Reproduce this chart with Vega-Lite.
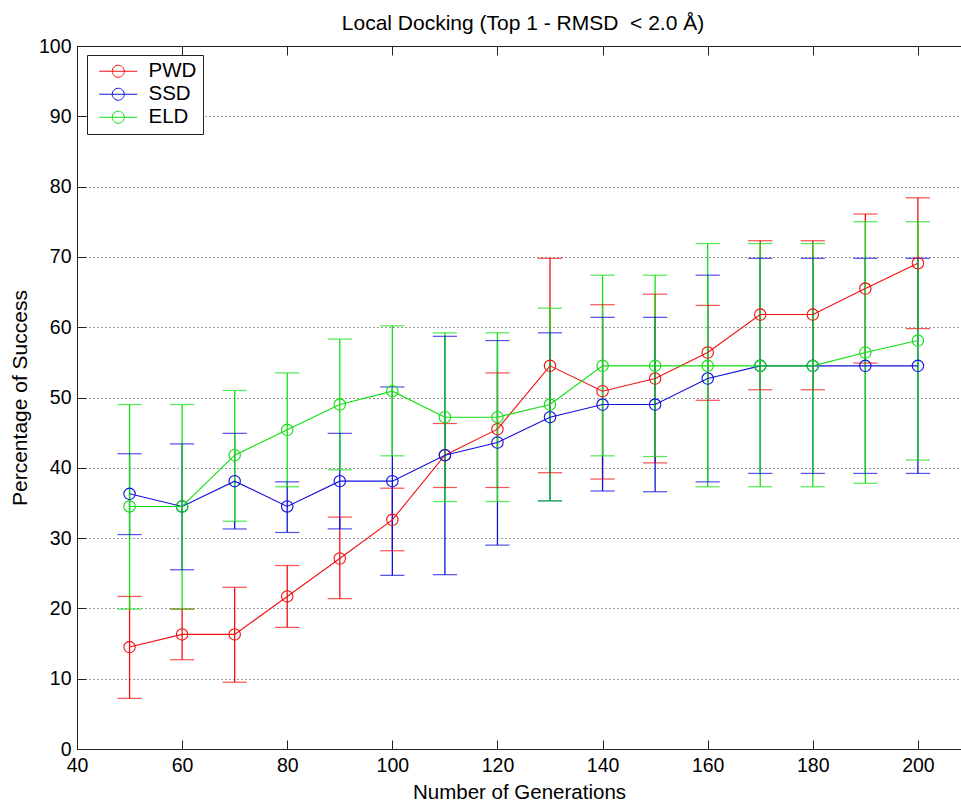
{
  "$schema": "https://vega.github.io/schema/vega-lite/v6.json",
  "width": 884,
  "height": 703,
  "autosize": {"type": "none"},
  "padding": {"left": 77, "top": 46, "right": 0, "bottom": 54},
  "background": "#ffffff",
  "config": {
    "font": "Liberation Sans",
    "view": {"stroke": null},
    "axis": {"domainColor": "#222222", "tickColor": "#222222", "labelColor": "#000000", "titleColor": "#000000", "labelFont": "Liberation Sans", "titleFont": "Liberation Sans", "titleFontWeight": "normal"}
  },
  "title": {
    "text": "Local Docking (Top 1 - RMSD\u00a0 < 2.0 Å)",
    "fontSize": 21,
    "fontWeight": "normal",
    "font": "Liberation Sans",
    "color": "#000000",
    "frame": "group",
    "anchor": "middle",
    "offset": 2,
    "dx": 4
  },
  "data": {
    "values": [
      {"gen": 50, "method": "PWD", "val": 14.5, "lo": 7.2, "hi": 21.7},
      {"gen": 60, "method": "PWD", "val": 16.3, "lo": 12.7, "hi": 19.9},
      {"gen": 70, "method": "PWD", "val": 16.3, "lo": 9.5, "hi": 23.0},
      {"gen": 80, "method": "PWD", "val": 21.7, "lo": 17.3, "hi": 26.1},
      {"gen": 90, "method": "PWD", "val": 27.1, "lo": 21.4, "hi": 33.0},
      {"gen": 100, "method": "PWD", "val": 32.6, "lo": 28.2, "hi": 37.1},
      {"gen": 110, "method": "PWD", "val": 41.8, "lo": 37.2, "hi": 46.3},
      {"gen": 120, "method": "PWD", "val": 45.5, "lo": 37.2, "hi": 53.5},
      {"gen": 130, "method": "PWD", "val": 54.5, "lo": 39.3, "hi": 69.8},
      {"gen": 140, "method": "PWD", "val": 50.9, "lo": 38.4, "hi": 63.2},
      {"gen": 150, "method": "PWD", "val": 52.7, "lo": 40.7, "hi": 64.7},
      {"gen": 160, "method": "PWD", "val": 56.4, "lo": 49.6, "hi": 63.1},
      {"gen": 170, "method": "PWD", "val": 61.8, "lo": 51.1, "hi": 72.3},
      {"gen": 180, "method": "PWD", "val": 61.8, "lo": 51.1, "hi": 72.3},
      {"gen": 190, "method": "PWD", "val": 65.5, "lo": 54.9, "hi": 76.1},
      {"gen": 200, "method": "PWD", "val": 69.1, "lo": 59.8, "hi": 78.4},
      {"gen": 50, "method": "SSD", "val": 36.3, "lo": 30.5, "hi": 42.0},
      {"gen": 60, "method": "SSD", "val": 34.5, "lo": 25.5, "hi": 43.4},
      {"gen": 70, "method": "SSD", "val": 38.1, "lo": 31.3, "hi": 44.9},
      {"gen": 80, "method": "SSD", "val": 34.5, "lo": 30.8, "hi": 38.0},
      {"gen": 90, "method": "SSD", "val": 38.1, "lo": 31.3, "hi": 44.9},
      {"gen": 100, "method": "SSD", "val": 38.1, "lo": 24.7, "hi": 51.5},
      {"gen": 110, "method": "SSD", "val": 41.8, "lo": 24.8, "hi": 58.7},
      {"gen": 120, "method": "SSD", "val": 43.6, "lo": 29.0, "hi": 58.1},
      {"gen": 130, "method": "SSD", "val": 47.2, "lo": 35.3, "hi": 59.2},
      {"gen": 140, "method": "SSD", "val": 49.0, "lo": 36.7, "hi": 61.4},
      {"gen": 150, "method": "SSD", "val": 49.0, "lo": 36.6, "hi": 61.4},
      {"gen": 160, "method": "SSD", "val": 52.7, "lo": 38.0, "hi": 67.4},
      {"gen": 170, "method": "SSD", "val": 54.5, "lo": 39.2, "hi": 69.8},
      {"gen": 180, "method": "SSD", "val": 54.5, "lo": 39.2, "hi": 69.8},
      {"gen": 190, "method": "SSD", "val": 54.5, "lo": 39.2, "hi": 69.8},
      {"gen": 200, "method": "SSD", "val": 54.5, "lo": 39.2, "hi": 69.8},
      {"gen": 50, "method": "ELD", "val": 34.5, "lo": 19.9, "hi": 49.0},
      {"gen": 60, "method": "ELD", "val": 34.5, "lo": 19.9, "hi": 49.0},
      {"gen": 70, "method": "ELD", "val": 41.8, "lo": 32.4, "hi": 51.0},
      {"gen": 80, "method": "ELD", "val": 45.4, "lo": 37.3, "hi": 53.5},
      {"gen": 90, "method": "ELD", "val": 49.0, "lo": 39.7, "hi": 58.3},
      {"gen": 100, "method": "ELD", "val": 50.9, "lo": 41.7, "hi": 60.2},
      {"gen": 110, "method": "ELD", "val": 47.2, "lo": 35.2, "hi": 59.2},
      {"gen": 120, "method": "ELD", "val": 47.2, "lo": 35.2, "hi": 59.2},
      {"gen": 130, "method": "ELD", "val": 49.0, "lo": 35.3, "hi": 62.7},
      {"gen": 140, "method": "ELD", "val": 54.5, "lo": 41.7, "hi": 67.4},
      {"gen": 150, "method": "ELD", "val": 54.5, "lo": 41.6, "hi": 67.4},
      {"gen": 160, "method": "ELD", "val": 54.5, "lo": 37.3, "hi": 71.9},
      {"gen": 170, "method": "ELD", "val": 54.5, "lo": 37.3, "hi": 71.9},
      {"gen": 180, "method": "ELD", "val": 54.5, "lo": 37.3, "hi": 71.9},
      {"gen": 190, "method": "ELD", "val": 56.4, "lo": 37.8, "hi": 75.0},
      {"gen": 200, "method": "ELD", "val": 58.1, "lo": 41.1, "hi": 75.0}
    ]
  },
  "encoding": {
    "color": {
      "field": "method", "type": "nominal",
      "scale": {"domain": ["PWD", "SSD", "ELD"], "range": ["#f01010", "#1010e0", "#10e010"]},
      "legend": {
        "title": null,
        "orient": "none",
        "legendX": 10,
        "legendY": 9,
        "direction": "vertical",
        "fillColor": "#ffffff",
        "strokeColor": "#222222",
        "padding": 6,
        "labelFontSize": 20.5,
        "labelFont": "Liberation Sans",
        "labelColor": "#000000",
        "labelOffset": 35,
        "labelExpr": "datum.label + '\u00a0'",
        "rowPadding": 2,
        "symbolType": "M-0.6667,0H5.6667M3.5,0A1,1 0 1 1 1.5,0A1,1 0 1 1 3.5,0",
        "symbolSize": 144,
        "symbolStrokeWidth": 1,
        "symbolFillColor": "transparent",
        "encode": {"symbols": {"enter": {"fill": {"value": "transparent"}}, "update": {"fill": {"value": "transparent"}}}}
      }
    }
  },
  "layer": [
    {
      "mark": {"type": "rule", "strokeWidth": 1.3},
      "encoding": {
        "x": {
          "field": "gen", "type": "quantitative",
          "scale": {"domain": [40, 208.2], "nice": false, "zero": false},
          "axis": {
            "orient": "bottom",
            "values": [40, 60, 80, 100, 120, 140, 160, 180, 200],
            "title": "Number of Generations",
            "titleFontSize": 20.5,
            "titlePadding": 8,
            "labelFontSize": 19.5,
            "labelPadding": 16,
            "tickSize": -9,
            "grid": false,
            "labelFlush": false
          }
        },
        "y": {
          "field": "lo", "type": "quantitative",
          "scale": {"domain": [0, 100], "nice": false},
          "axis": {
            "orient": "left",
            "values": [0, 10, 20, 30, 40, 50, 60, 70, 80, 90, 100],
            "title": "Percentage of Success",
            "titleFontSize": 21,
            "titlePadding": 8,
            "labelFontSize": 19.5,
            "labelPadding": 15,
            "tickSize": -9,
            "grid": true,
            "gridColor": "#000000",
            "gridDash": [1, 3],
            "gridOpacity": 0.8,
            "labelFlush": false
          }
        },
        "y2": {"field": "hi"}
      }
    },
    {
      "mark": {"type": "tick", "orient": "horizontal", "size": 23, "thickness": 0.05, "filled": false, "strokeWidth": 1.2},
      "encoding": {
        "x": {"field": "gen", "type": "quantitative", "axis": null},
        "y": {"field": "hi", "type": "quantitative"}
      }
    },
    {
      "mark": {"type": "tick", "orient": "horizontal", "size": 23, "thickness": 0.05, "filled": false, "strokeWidth": 1.2},
      "encoding": {
        "x": {"field": "gen", "type": "quantitative", "axis": null},
        "y": {"field": "lo", "type": "quantitative"}
      }
    },
    {
      "mark": {"type": "line", "strokeWidth": 1.1},
      "encoding": {
        "x": {"field": "gen", "type": "quantitative", "axis": null},
        "y": {"field": "val", "type": "quantitative"}
      }
    },
    {
      "mark": {"type": "point", "shape": "circle", "filled": false, "size": 130, "strokeWidth": 1.1, "opacity": 1},
      "encoding": {
        "x": {"field": "gen", "type": "quantitative", "axis": null},
        "y": {"field": "val", "type": "quantitative"}
      }
    },
    {
      "mark": {"type": "rule", "opacity": 0},
      "encoding": {
        "x": {
          "field": "gen", "type": "quantitative",
          "axis": {
            "orient": "top",
            "values": [40, 60, 80, 100, 120, 140, 160, 180, 200],
            "labels": false,
            "title": null,
            "tickSize": -9,
            "grid": false
          }
        },
        "y": {"field": "val", "type": "quantitative"},
        "color": {"value": "transparent"}
      }
    }
  ],
  "resolve": {"axis": {"x": "independent"}}
}
